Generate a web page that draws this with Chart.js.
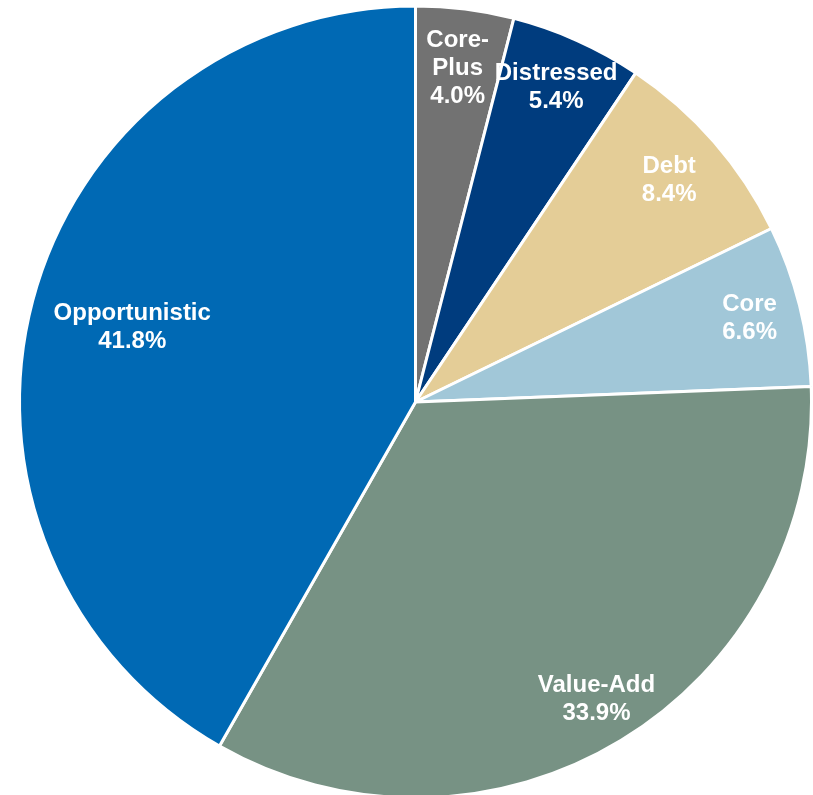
<!DOCTYPE html>
<html>
<head>
<meta charset="utf-8">
<script src="https://cdn.jsdelivr.net/npm/chart.js@4"></script>
<style>
  html, body { margin: 0; padding: 0; background: #fff; overflow: hidden; }
  .wrap { position: relative; width: 813px; height: 800px; }
</style>
</head>
<body>
<div class="wrap"><canvas id="strategyPie"></canvas></div>
<script>
// Share by strategy, clockwise from 12 o'clock
const strategies = ["Core-Plus", "Distressed", "Debt", "Core", "Value-Add", "Opportunistic"];
const shares = [4.0, 5.4, 8.4, 6.6, 33.9, 41.8];
const sliceColors = ["#727272", "#003c7e", "#e4cd97", "#a1c7d8", "#779284", "#0069b4"];
// label line breaks (Core-Plus wraps onto two lines)
const labelLines = [["Core-", "Plus"], ["Distressed"], ["Debt"], ["Core"], ["Value-Add"], ["Opportunistic"]];
// how far out along each slice the label sits (fraction of radius)
const labelRadius = [0.85, 0.87, 0.85, 0.87, 0.88, 0.74];

// white two-line labels placed along each slice's mid angle
const sliceLabels = {
  id: "sliceLabels",
  afterDatasetsDraw(chart) {
    const { ctx } = chart;
    const meta = chart.getDatasetMeta(0);
    ctx.save();
    ctx.fillStyle = "#ffffff";
    ctx.font = "bold 24px 'Liberation Sans', Arial, sans-serif";
    ctx.textAlign = "center";
    ctx.textBaseline = "middle";
    meta.data.forEach((arc, i) => {
      const p = arc.getProps(["x", "y", "startAngle", "endAngle", "outerRadius"], true);
      const mid = (p.startAngle + p.endAngle) / 2;
      const r = p.outerRadius * labelRadius[i];
      const cx = p.x + Math.cos(mid) * r;
      const cy = p.y + Math.sin(mid) * r;
      const lines = labelLines[i].concat([shares[i].toFixed(1) + "%"]);
      const lh = 28;
      const top = cy - (lines.length - 1) * lh / 2;
      lines.forEach((t, k) => ctx.fillText(t, cx, top + k * lh));
    });
    ctx.restore();
  }
};

new Chart(document.getElementById("strategyPie"), {
  type: "pie",
  data: {
    labels: strategies,
    datasets: [{
      data: shares,
      backgroundColor: sliceColors,
      borderColor: "#ffffff",
      borderWidth: 3
    }]
  },
  options: {
    responsive: true,
    maintainAspectRatio: false,
    animation: false,
    layout: { padding: { left: 18, right: 0, top: 4, bottom: 0 } },
    plugins: {
      legend: { display: false },
      tooltip: { enabled: false }
    }
  },
  plugins: [sliceLabels]
});
</script>
</body>
</html>
